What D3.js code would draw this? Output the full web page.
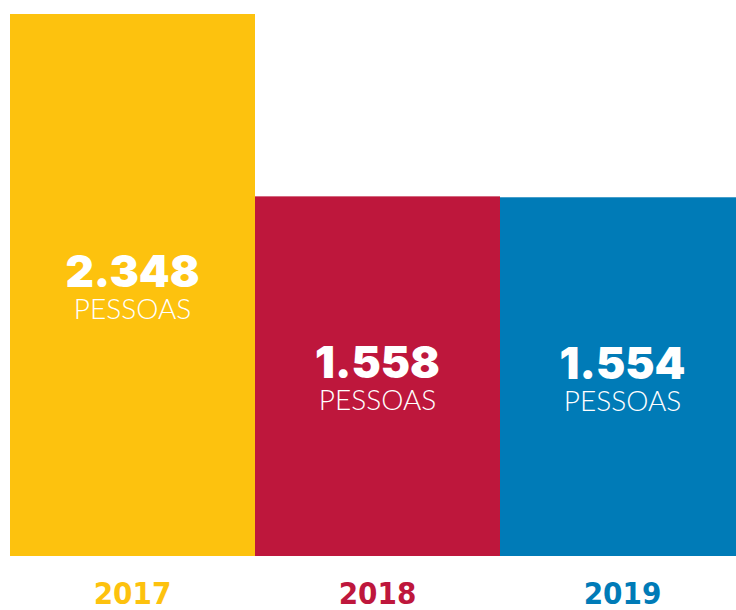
<!DOCTYPE html>
<html>
<head>
<meta charset="utf-8">
<script src="https://cdn.jsdelivr.net/npm/d3@7"></script>
<style>
  body { margin: 0; background: #fff; }
</style>
</head>
<body>
<div id="chart"></div>
<script>
// data
var years = ["2017", "2018", "2019"];
var values = [2348, 1558, 1554];
var valueLabels = ["2.348", "1.558", "1.554"];
var colors = ["#FDC20E", "#BE173C", "#007BB7"];

var width = 736, height = 610;
var baseY = 556, topY = 14;

var svg = d3.select("#chart").append("svg")
    .attr("width", width)
    .attr("height", height);

// equal bands, the last one runs off the right edge
var x = d3.scaleBand()
    .domain(years)
    .range([10, 745])
    .padding(0);

var y = d3.scaleLinear()
    .domain([0, d3.max(values)])
    .range([baseY, topY]);

var data = years.map(function(d, i) {
  return {year: d, value: values[i], label: valueLabels[i], color: colors[i]};
});

svg.selectAll(".bar")
    .data(data)
  .enter().append("rect")
    .attr("class", "bar")
    .attr("x", function(d) { return x(d.year); })
    .attr("y", function(d) { return y(d.value); })
    .attr("width", x.bandwidth())
    .attr("height", function(d) { return baseY - y(d.value); })
    .attr("fill", function(d) { return d.color; });

// big number, middle of bar
svg.selectAll(".val")
    .data(data)
  .enter().append("text")
    .attr("class", "val")
    .attr("x", function(d) { return x(d.year) + x.bandwidth() / 2; })
    .attr("y", function(d) { return (y(d.value) + baseY) / 2 + 2; })
    .attr("text-anchor", "middle")
    .attr("fill", "#fff")
    .style("font-family", "Inter, 'Open Sans', sans-serif")
    .style("font-weight", 900)
    .style("font-size", "44px")
    .text(function(d) { return d.label; });

svg.selectAll(".unit")
    .data(data)
  .enter().append("text")
    .attr("class", "unit")
    .attr("x", function(d) { return x(d.year) + x.bandwidth() / 2; })
    .attr("y", function(d) { return (y(d.value) + baseY) / 2 + 34; })
    .attr("text-anchor", "middle")
    .attr("fill", "#fff")
    .style("font-family", "Lato, 'Open Sans', sans-serif")
    .style("font-weight", 300)
    .style("font-size", "28px")
    .text("PESSOAS");

// year labels under the bars
svg.selectAll(".year")
    .data(data)
  .enter().append("text")
    .attr("class", "year")
    .attr("x", function(d) { return x(d.year) + x.bandwidth() / 2; })
    .attr("y", 604)
    .attr("text-anchor", "middle")
    .attr("fill", function(d) { return d.color; })
    .style("font-family", "'Liberation Sans Narrow', 'DejaVu Sans Condensed', sans-serif")
    .style("font-weight", 700)
    .style("font-size", "31px")
    .text(function(d) { return d.year; });
</script>
</body>
</html>
